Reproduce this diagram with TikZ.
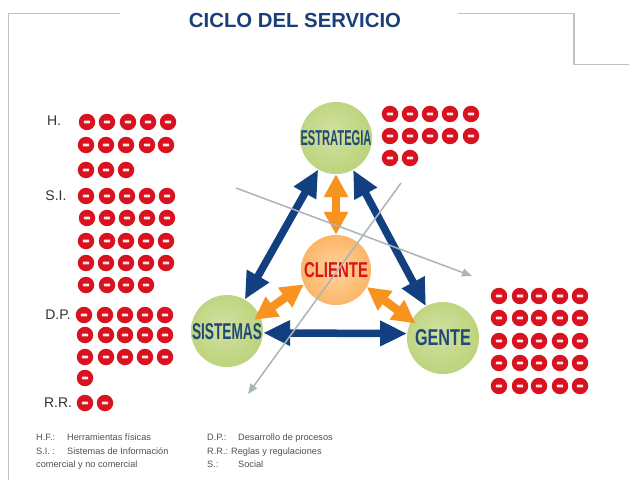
\documentclass[tikz,border=0pt]{standalone}
\usepackage{fontspec}
\usepackage{graphicx}
\setmainfont{Liberation Sans}
\usetikzlibrary{arrows.meta}
\definecolor{navy}{HTML}{123F80}
\definecolor{titleblue}{HTML}{1B3F78}
\definecolor{ballblue}{HTML}{1F4A78}
\definecolor{dotred}{HTML}{D8121F}
\definecolor{orangearrow}{HTML}{F7931E}
\definecolor{greyline}{HTML}{A9B5BB}
\definecolor{framegrey}{HTML}{BCC3C4}
\definecolor{lgA}{HTML}{D2E0A0}
\definecolor{lgB}{HTML}{BDD47E}
\definecolor{lgC}{HTML}{9FBE4C}
\definecolor{loA}{HTML}{FFD49A}
\definecolor{loB}{HTML}{FBB262}
\definecolor{loC}{HTML}{F2942E}
\pgfdeclareradialshading{greenball}{\pgfpoint{-4bp}{4bp}}{color(0bp)=(lgA); color(26bp)=(lgB); color(50bp)=(lgC)}
\pgfdeclareradialshading{orangeball}{\pgfpoint{0bp}{0bp}}{color(0bp)=(loA); color(28bp)=(loB); color(50bp)=(loC)}
\tikzset{
  minusdot/.style={circle,fill=dotred,minimum size=16.5pt,inner sep=0pt,
    path picture={\fill[white!90!dotred,rounded corners=.6pt] ([shift={(-3.2pt,-1.4pt)}]path picture bounding box.center) rectangle ([shift={(3.2pt,1.4pt)}]path picture bounding box.center);}},
  greenballnode/.style={circle,minimum size=72pt,inner sep=0pt,shading=greenball},
  orangeballnode/.style={circle,minimum size=70pt,inner sep=0pt,shading=orangeball},
  bluelink/.style={navy,line width=7.5pt,{Triangle[length=27pt,width=24pt]}-{Triangle[length=27pt,width=24pt]}},
  orangelink/.style={orangearrow,line width=8.5pt,{Triangle[length=23pt,width=23pt]}-{Triangle[length=23pt,width=23pt]}},
  greylink/.style={greyline,line width=1.5pt,-{Triangle[length=10pt,width=8pt]}},
  framerule/.style={framegrey,line width=1.1pt},
  sidelabel/.style={text=black!80,font=\fontsize{14}{16}\selectfont,inner sep=0pt},
  legend/.style={text=black!68,font=\fontsize{9.2}{11}\selectfont,anchor=base west,inner sep=0pt},
}
\newcommand{\balltext}[3]{\resizebox{#1pt}{#2pt}{\bfseries #3}}
\begin{document}
\begin{tikzpicture}[x=1pt,y=-1pt]
\useasboundingbox (0,0) rectangle (629,481);
\fill[white] (0,0) rectangle (629,481);
% frame
\draw[framerule] (120,13.5) -- (8.5,13.5) -- (8.5,480);
\draw[framerule] (458,13.5) -- (574,13.5) -- (574,64.5) -- (629,64.5);
% title
\node[inner sep=0pt,text=titleblue] (title) at (295,21) {\resizebox{212pt}{!}{\bfseries CICLO DEL SERVICIO}};
% side labels
\node[sidelabel] (lh) at (54,121) {H.};
\node[sidelabel] (lsi) at (56,196) {S.I.};
\node[sidelabel] (ldp) at (58,315) {D.P.};
\node[sidelabel] (lrr) at (58,403) {R.R.};
% dots
\foreach \yy/\xs in {
  122/{87,107,128,148,168},
  145/{86,106,126,147,166},
  170/{86,106,126},
  196/{86,107,127,147,167},
  218/{87,107,127,147,167},
  241/{86,107,126,146,166},
  263/{86,106,126,146,166},
  285/{86,107,126,146},
  315/{84,105,125,145,165},
  335/{85,106,125,145,165},
  357/{85,106,125,145,165},
  378/{85},
  403/{85,105},
  114/{390,410,430,450,471},
  136/{390,410,430,450,471},
  158/{390,410},
  296/{499,520,539,560,580},
  318/{499,520,539,560,580},
  341/{499,520,539,560,580},
  363/{499,520,539,560,580},
  386/{499,520,539,560,580}}{
  \foreach \xx in \xs { \node[minusdot] (d\xx-\yy) at (\xx,\yy) {}; }
}
% balls
\node[greenballnode] (estrategia) at (336,138) {};
\node[orangeballnode] (cliente) at (336,270) {};
\node[greenballnode] (sistemas) at (227,331) {};
\node[greenballnode] (gente) at (443,338) {};
% links
\draw[bluelink] (sistemas) -- (estrategia);
\draw[bluelink] (estrategia) -- (gente);
\draw[bluelink] (sistemas.-3) -- (gente.173);
\draw[orangelink] (estrategia) -- (cliente);
\draw[orangelink,shorten >=-7pt] (cliente.204) -- (sistemas.25);
\draw[orangelink,shorten >=-5pt] (cliente.-29) -- (gente.151);
% ball labels
\node[inner sep=0pt,text=ballblue] (testrategia) at (336,138) {\balltext{71}{15}{ESTRATEGIA}};
\node[inner sep=0pt,text=ballblue] (tsistemas) at (227,332) {\balltext{70}{16}{SISTEMAS}};
\node[inner sep=0pt,text=ballblue] (tgente) at (443,338) {\balltext{56}{16}{GENTE}};
\node[inner sep=0pt,text=dotred] (tcliente) at (336,270) {\balltext{64}{15}{CLIENTE}};
% grey lines
\coordinate (g1s) at (236,188); \coordinate (g1e) at (472,276);
\coordinate (g2s) at (401,183); \coordinate (g2e) at (248,394);
\draw[greylink] (g1s) -- (g1e);
\draw[greylink] (g2s) -- (g2e);
% legend
\node[legend] (a1) at (36,440) {H.F.:};
\node[legend] (a2) at (67,440) {Herramientas físicas};
\node[legend] (b1) at (36,454) {S.I. :};
\node[legend] (b2) at (67,454) {Sistemas de Información};
\node[legend] (c1) at (36,467) {comercial y no comercial};
\node[legend] (a3) at (207,440) {D.P.:};
\node[legend] (a4) at (238,440) {Desarrollo de procesos};
\node[legend] (b3) at (207,454) {R.R.:};
\node[legend] (b4) at (231,454) {Reglas y regulaciones};
\node[legend] (c3) at (207,467) {S.:};
\node[legend] (c4) at (238,467) {Social};
\end{tikzpicture}
\end{document}
